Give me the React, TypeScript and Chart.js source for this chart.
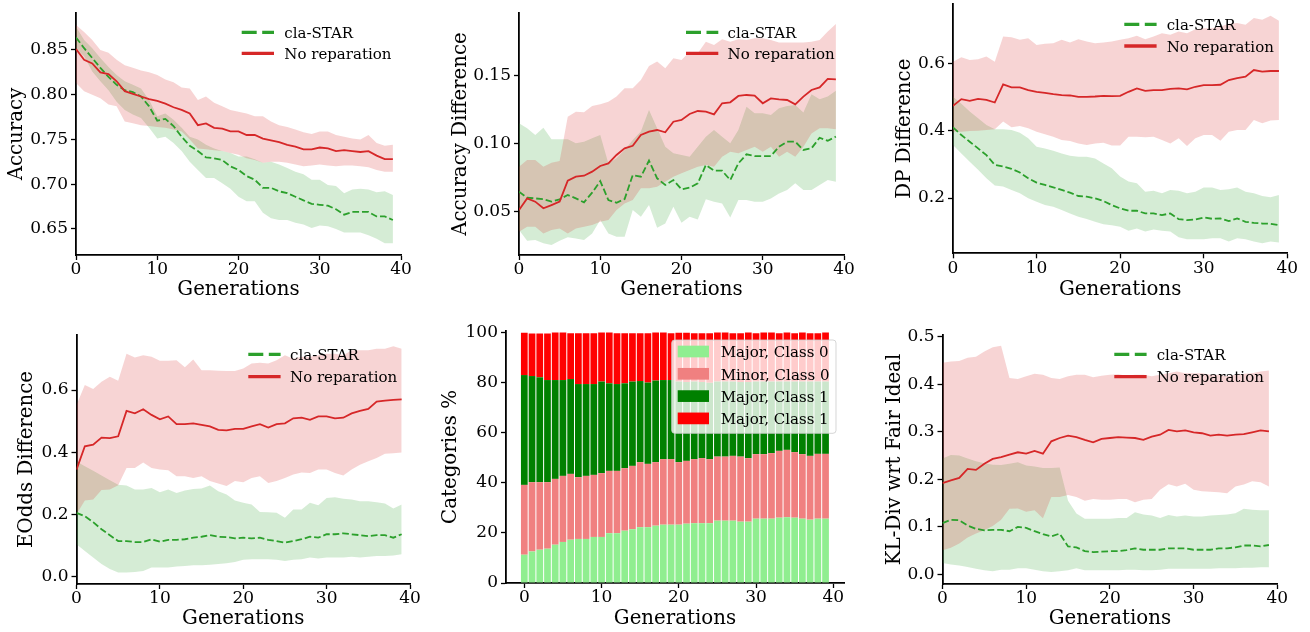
import React, { useEffect, useRef } from 'react';
import { Chart, registerables } from 'chart.js';

Chart.register(...registerables);

// ---------- categories / ticks ----------
const generations = [0, 1, 2, 3, 4, 5, 6, 7, 8, 9, 10, 11, 12, 13, 14, 15, 16, 17, 18, 19, 20, 21, 22, 23, 24, 25, 26, 27, 28, 29, 30, 31, 32, 33, 34, 35, 36, 37, 38, 39];
const genTicks = [0, 10, 20, 30, 40];
const seriesLabels = ['cla-STAR', 'No reparation'];
const barLabels = ['Major, Class 0', 'Minor, Class 0', 'Major, Class 1', 'Major, Class 1'];

// ---------- Accuracy ----------
const accTicks = [0.65, 0.7, 0.75, 0.8, 0.85];
const accStar = [0.864, 0.852, 0.841, 0.830, 0.820, 0.811, 0.805, 0.803, 0.798, 0.787, 0.771, 0.773, 0.765, 0.753, 0.743, 0.737, 0.730, 0.729, 0.727, 0.720, 0.716, 0.709, 0.705, 0.696, 0.696, 0.692, 0.690, 0.686, 0.682, 0.678, 0.677, 0.676, 0.672, 0.666, 0.669, 0.669, 0.669, 0.664, 0.664, 0.660];
const accStarHi = [0.876, 0.861, 0.852, 0.841, 0.831, 0.822, 0.815, 0.811, 0.807, 0.794, 0.776, 0.779, 0.772, 0.763, 0.753, 0.750, 0.744, 0.740, 0.737, 0.735, 0.731, 0.731, 0.728, 0.724, 0.725, 0.722, 0.718, 0.714, 0.711, 0.705, 0.705, 0.699, 0.698, 0.690, 0.694, 0.695, 0.694, 0.691, 0.692, 0.688];
const accStarLo = [0.852, 0.843, 0.826, 0.815, 0.805, 0.792, 0.783, 0.778, 0.774, 0.763, 0.751, 0.753, 0.746, 0.737, 0.725, 0.716, 0.707, 0.707, 0.701, 0.695, 0.686, 0.681, 0.681, 0.668, 0.662, 0.660, 0.660, 0.657, 0.655, 0.651, 0.654, 0.653, 0.650, 0.646, 0.646, 0.646, 0.643, 0.639, 0.634, 0.634];
const accNone = [0.851, 0.839, 0.835, 0.825, 0.823, 0.815, 0.804, 0.801, 0.798, 0.795, 0.793, 0.790, 0.786, 0.783, 0.779, 0.766, 0.768, 0.763, 0.762, 0.759, 0.759, 0.755, 0.755, 0.751, 0.749, 0.747, 0.744, 0.742, 0.739, 0.739, 0.741, 0.740, 0.737, 0.738, 0.737, 0.736, 0.737, 0.732, 0.728, 0.728];
const accNoneHi = [0.878, 0.870, 0.861, 0.850, 0.847, 0.839, 0.833, 0.830, 0.827, 0.825, 0.822, 0.817, 0.814, 0.808, 0.807, 0.794, 0.798, 0.791, 0.787, 0.783, 0.781, 0.779, 0.776, 0.776, 0.770, 0.766, 0.764, 0.761, 0.758, 0.756, 0.759, 0.759, 0.755, 0.753, 0.751, 0.750, 0.755, 0.746, 0.743, 0.744];
const accNoneLo = [0.813, 0.804, 0.800, 0.796, 0.789, 0.787, 0.770, 0.768, 0.766, 0.765, 0.764, 0.763, 0.761, 0.759, 0.750, 0.740, 0.739, 0.738, 0.737, 0.735, 0.733, 0.729, 0.727, 0.724, 0.725, 0.725, 0.724, 0.722, 0.720, 0.721, 0.722, 0.721, 0.720, 0.721, 0.721, 0.720, 0.719, 0.716, 0.714, 0.714];

// ---------- Accuracy Difference ----------
const adTicks = [0.05, 0.1, 0.15];
const adStar = [0.0647, 0.0603, 0.0598, 0.0593, 0.0574, 0.0591, 0.0623, 0.0598, 0.0569, 0.0640, 0.0726, 0.0586, 0.0566, 0.0593, 0.0770, 0.0758, 0.0876, 0.0746, 0.0697, 0.0733, 0.0665, 0.0677, 0.0709, 0.0844, 0.0802, 0.0802, 0.0733, 0.0856, 0.0923, 0.0910, 0.0910, 0.0910, 0.0979, 0.1016, 0.1016, 0.0955, 0.0967, 0.1045, 0.1023, 0.1053];
const adStarHi = [0.1151, 0.1114, 0.1065, 0.1119, 0.1033, 0.1033, 0.1033, 0.1004, 0.1016, 0.1041, 0.1065, 0.0856, 0.0893, 0.0955, 0.1028, 0.1090, 0.1249, 0.1114, 0.0979, 0.0930, 0.0918, 0.0905, 0.0979, 0.1053, 0.1102, 0.1053, 0.1004, 0.1102, 0.1274, 0.1225, 0.1225, 0.1213, 0.1262, 0.1279, 0.1286, 0.1230, 0.1365, 0.1328, 0.1348, 0.1392];
const adStarLo = [0.0365, 0.0286, 0.0291, 0.0267, 0.0254, 0.0286, 0.0311, 0.0303, 0.0291, 0.0340, 0.0439, 0.0340, 0.0316, 0.0316, 0.0512, 0.0463, 0.0549, 0.0382, 0.0414, 0.0537, 0.0419, 0.0463, 0.0443, 0.0591, 0.0574, 0.0561, 0.0458, 0.0586, 0.0586, 0.0574, 0.0574, 0.0598, 0.0635, 0.0660, 0.0709, 0.0660, 0.0660, 0.0697, 0.0733, 0.0721];
const adNone = [0.0512, 0.0598, 0.0574, 0.0525, 0.0549, 0.0574, 0.0729, 0.0758, 0.0765, 0.0795, 0.0837, 0.0856, 0.0918, 0.0967, 0.0986, 0.1065, 0.1090, 0.1102, 0.1085, 0.1163, 0.1176, 0.1220, 0.1242, 0.1237, 0.1217, 0.1299, 0.1306, 0.1353, 0.1360, 0.1355, 0.1299, 0.1335, 0.1328, 0.1323, 0.1291, 0.1348, 0.1397, 0.1416, 0.1478, 0.1475];
const adNoneHi = [0.0832, 0.0881, 0.0881, 0.0832, 0.0861, 0.0873, 0.1200, 0.1237, 0.1232, 0.1279, 0.1291, 0.1311, 0.1348, 0.1409, 0.1409, 0.1471, 0.1574, 0.1606, 0.1557, 0.1630, 0.1618, 0.1679, 0.1667, 0.1753, 0.1728, 0.1770, 0.1753, 0.1770, 0.1765, 0.1778, 0.1778, 0.1765, 0.1746, 0.1746, 0.1746, 0.1746, 0.1753, 0.1765, 0.1827, 0.1883];
const adNoneLo = [0.0353, 0.0389, 0.0389, 0.0340, 0.0365, 0.0377, 0.0340, 0.0377, 0.0389, 0.0402, 0.0426, 0.0439, 0.0512, 0.0561, 0.0586, 0.0672, 0.0672, 0.0684, 0.0721, 0.0758, 0.0783, 0.0807, 0.0832, 0.0844, 0.0832, 0.0905, 0.0942, 0.0930, 0.0955, 0.0979, 0.0942, 0.0979, 0.0905, 0.0942, 0.0905, 0.0979, 0.1077, 0.1114, 0.1114, 0.1107];

// ---------- DP Difference ----------
const dpTicks = [0.2, 0.4, 0.6];
const dpStar = [0.411, 0.388, 0.368, 0.348, 0.328, 0.299, 0.294, 0.287, 0.276, 0.259, 0.246, 0.239, 0.232, 0.224, 0.216, 0.206, 0.204, 0.199, 0.191, 0.179, 0.169, 0.162, 0.162, 0.154, 0.154, 0.149, 0.154, 0.137, 0.134, 0.136, 0.142, 0.138, 0.139, 0.131, 0.139, 0.129, 0.126, 0.124, 0.123, 0.119];
const dpStarHi = [0.502, 0.481, 0.458, 0.438, 0.418, 0.405, 0.405, 0.403, 0.395, 0.378, 0.353, 0.348, 0.341, 0.333, 0.326, 0.323, 0.323, 0.318, 0.303, 0.289, 0.264, 0.249, 0.244, 0.219, 0.222, 0.214, 0.224, 0.222, 0.214, 0.219, 0.231, 0.231, 0.224, 0.226, 0.231, 0.219, 0.214, 0.206, 0.202, 0.209];
const dpStarLo = [0.358, 0.333, 0.308, 0.284, 0.259, 0.237, 0.234, 0.224, 0.214, 0.199, 0.189, 0.179, 0.174, 0.164, 0.154, 0.144, 0.137, 0.129, 0.122, 0.119, 0.114, 0.102, 0.109, 0.100, 0.106, 0.102, 0.100, 0.083, 0.077, 0.077, 0.077, 0.080, 0.080, 0.070, 0.080, 0.077, 0.070, 0.065, 0.070, 0.067];
const dpNone = [0.475, 0.495, 0.490, 0.496, 0.493, 0.485, 0.539, 0.530, 0.530, 0.522, 0.517, 0.514, 0.510, 0.507, 0.506, 0.502, 0.502, 0.503, 0.505, 0.504, 0.505, 0.517, 0.527, 0.520, 0.522, 0.522, 0.526, 0.527, 0.524, 0.532, 0.537, 0.537, 0.538, 0.552, 0.558, 0.562, 0.582, 0.577, 0.579, 0.579];
const dpNoneHi = [0.607, 0.620, 0.612, 0.614, 0.622, 0.607, 0.682, 0.680, 0.672, 0.677, 0.657, 0.660, 0.662, 0.672, 0.664, 0.674, 0.667, 0.662, 0.664, 0.667, 0.672, 0.677, 0.684, 0.674, 0.682, 0.692, 0.687, 0.697, 0.692, 0.704, 0.707, 0.707, 0.712, 0.720, 0.722, 0.717, 0.737, 0.732, 0.744, 0.729];
const dpNoneLo = [0.398, 0.398, 0.400, 0.401, 0.403, 0.405, 0.428, 0.411, 0.415, 0.408, 0.398, 0.390, 0.383, 0.373, 0.370, 0.363, 0.358, 0.363, 0.365, 0.357, 0.357, 0.383, 0.383, 0.381, 0.383, 0.373, 0.363, 0.378, 0.355, 0.378, 0.388, 0.388, 0.371, 0.398, 0.403, 0.403, 0.433, 0.423, 0.431, 0.433];

// ---------- EOdds Difference ----------
const eoTicks = [0, 0.2, 0.4, 0.6];
const eoStar = [0.205, 0.194, 0.175, 0.152, 0.133, 0.114, 0.114, 0.111, 0.111, 0.120, 0.112, 0.118, 0.118, 0.120, 0.125, 0.128, 0.133, 0.128, 0.127, 0.123, 0.125, 0.123, 0.125, 0.118, 0.114, 0.109, 0.114, 0.120, 0.128, 0.125, 0.136, 0.136, 0.139, 0.136, 0.133, 0.130, 0.133, 0.133, 0.125, 0.136];
const eoStarHi = [0.370, 0.355, 0.340, 0.325, 0.310, 0.295, 0.293, 0.280, 0.280, 0.285, 0.271, 0.280, 0.269, 0.277, 0.282, 0.283, 0.293, 0.274, 0.264, 0.245, 0.237, 0.232, 0.208, 0.207, 0.205, 0.189, 0.216, 0.216, 0.237, 0.229, 0.253, 0.255, 0.250, 0.248, 0.242, 0.242, 0.239, 0.235, 0.219, 0.232];
const eoStarLo = [0.104, 0.082, 0.061, 0.040, 0.024, 0.013, 0.013, 0.015, 0.018, 0.029, 0.029, 0.029, 0.032, 0.034, 0.036, 0.036, 0.038, 0.040, 0.043, 0.047, 0.054, 0.056, 0.056, 0.056, 0.054, 0.050, 0.054, 0.056, 0.061, 0.058, 0.061, 0.061, 0.061, 0.064, 0.061, 0.064, 0.066, 0.066, 0.068, 0.072];
const eoNone = [0.344, 0.419, 0.424, 0.447, 0.445, 0.451, 0.533, 0.525, 0.538, 0.520, 0.506, 0.515, 0.490, 0.490, 0.493, 0.488, 0.483, 0.472, 0.470, 0.475, 0.475, 0.483, 0.490, 0.479, 0.490, 0.493, 0.509, 0.511, 0.504, 0.515, 0.515, 0.509, 0.511, 0.525, 0.533, 0.539, 0.563, 0.566, 0.568, 0.570];
const eoNoneHi = [0.552, 0.616, 0.603, 0.627, 0.643, 0.630, 0.717, 0.705, 0.712, 0.707, 0.694, 0.694, 0.696, 0.673, 0.698, 0.664, 0.664, 0.662, 0.661, 0.661, 0.669, 0.685, 0.688, 0.685, 0.696, 0.712, 0.701, 0.707, 0.707, 0.712, 0.717, 0.717, 0.712, 0.728, 0.728, 0.728, 0.733, 0.733, 0.741, 0.733];
const eoNoneLo = [0.200, 0.245, 0.248, 0.278, 0.280, 0.294, 0.349, 0.349, 0.367, 0.349, 0.344, 0.342, 0.323, 0.323, 0.317, 0.323, 0.307, 0.299, 0.291, 0.307, 0.303, 0.317, 0.323, 0.301, 0.307, 0.317, 0.328, 0.335, 0.333, 0.344, 0.344, 0.333, 0.325, 0.344, 0.360, 0.371, 0.381, 0.395, 0.397, 0.399];

// ---------- Categories % (stacked bars) ----------
const catTicks = [0, 20, 40, 60, 80, 100];
const majorClass0 = [11.3, 12.6, 13.3, 13.7, 15.3, 16.4, 17.3, 17.6, 17.6, 18.4, 18.4, 19.9, 19.9, 20.9, 21.5, 22.3, 22.3, 22.9, 23.3, 23.3, 23.3, 23.7, 23.9, 23.9, 23.9, 24.9, 24.9, 24.9, 24.5, 24.5, 25.7, 25.7, 25.7, 26.1, 26.3, 26.1, 25.7, 25.3, 25.7, 25.7];
const minorClass0 = [27.9, 27.7, 27.0, 26.6, 26.3, 26.4, 26.3, 24.7, 25.2, 24.8, 25.5, 24.9, 24.9, 25.0, 25.3, 26.0, 25.3, 25.4, 26.2, 26.2, 25.0, 25.1, 25.6, 26.0, 25.6, 25.6, 25.6, 25.9, 26.0, 25.4, 25.8, 25.8, 26.2, 26.7, 26.9, 26.2, 25.8, 25.5, 25.9, 25.9];
const majorClass1 = [43.9, 42.4, 41.9, 40.8, 39.5, 38.3, 37.9, 37.2, 36.7, 36.3, 36.6, 35.0, 34.7, 33.9, 33.7, 32.4, 32.5, 32.6, 31.6, 31.6, 32.2, 31.5, 31.0, 30.4, 30.5, 30.0, 30.0, 29.7, 29.8, 30.4, 29.0, 29.0, 28.6, 27.7, 27.3, 28.2, 29.0, 29.7, 28.9, 28.9];
const majorClass1b = [16.9, 17.0, 17.5, 18.6, 19.0, 19.0, 18.3, 20.3, 20.3, 20.3, 19.6, 20.3, 20.3, 20.0, 19.3, 19.1, 19.7, 19.2, 19.0, 18.7, 19.5, 19.7, 19.3, 19.5, 19.8, 19.6, 19.6, 19.3, 19.5, 19.8, 19.3, 19.6, 19.6, 19.3, 19.6, 19.3, 19.6, 19.3, 19.3, 19.6];

// ---------- KL-Div ----------
const klTicks = [0, 0.1, 0.2, 0.3, 0.4, 0.5];
const klStar = [0.108, 0.115, 0.114, 0.103, 0.096, 0.093, 0.094, 0.094, 0.091, 0.100, 0.098, 0.091, 0.085, 0.080, 0.086, 0.059, 0.057, 0.049, 0.047, 0.048, 0.049, 0.049, 0.051, 0.055, 0.052, 0.052, 0.052, 0.055, 0.055, 0.055, 0.052, 0.052, 0.052, 0.055, 0.055, 0.057, 0.061, 0.061, 0.059, 0.062];
const klStarHi = [0.244, 0.251, 0.250, 0.244, 0.238, 0.234, 0.231, 0.230, 0.233, 0.236, 0.229, 0.227, 0.224, 0.224, 0.225, 0.155, 0.128, 0.117, 0.117, 0.117, 0.117, 0.119, 0.119, 0.131, 0.126, 0.124, 0.119, 0.125, 0.122, 0.124, 0.122, 0.122, 0.124, 0.125, 0.126, 0.129, 0.138, 0.136, 0.135, 0.135];
const klStarLo = [0.024, 0.021, 0.019, 0.016, 0.012, 0.009, 0.007, 0.010, 0.010, 0.013, 0.013, 0.010, 0.007, 0.005, 0.007, 0.009, 0.013, 0.009, 0.009, 0.009, 0.009, 0.009, 0.010, 0.010, 0.009, 0.009, 0.010, 0.012, 0.012, 0.012, 0.012, 0.012, 0.012, 0.013, 0.013, 0.013, 0.014, 0.014, 0.015, 0.015];
const klNone = [0.192, 0.198, 0.203, 0.222, 0.220, 0.233, 0.243, 0.247, 0.252, 0.257, 0.254, 0.260, 0.254, 0.280, 0.287, 0.292, 0.289, 0.283, 0.278, 0.285, 0.287, 0.289, 0.288, 0.287, 0.283, 0.290, 0.294, 0.304, 0.301, 0.303, 0.299, 0.297, 0.292, 0.294, 0.292, 0.294, 0.295, 0.299, 0.303, 0.301];
const klNoneHi = [0.445, 0.448, 0.449, 0.456, 0.458, 0.469, 0.478, 0.481, 0.413, 0.411, 0.417, 0.422, 0.420, 0.413, 0.411, 0.417, 0.420, 0.420, 0.415, 0.418, 0.420, 0.421, 0.418, 0.420, 0.420, 0.417, 0.420, 0.423, 0.427, 0.423, 0.423, 0.423, 0.420, 0.420, 0.417, 0.420, 0.422, 0.423, 0.427, 0.429];
const klNoneLo = [0.051, 0.056, 0.065, 0.078, 0.086, 0.093, 0.102, 0.115, 0.138, 0.139, 0.132, 0.135, 0.118, 0.163, 0.163, 0.167, 0.163, 0.155, 0.159, 0.157, 0.157, 0.159, 0.159, 0.152, 0.157, 0.159, 0.178, 0.190, 0.185, 0.191, 0.178, 0.175, 0.174, 0.173, 0.171, 0.185, 0.189, 0.196, 0.194, 0.185];

// ---------- styles ----------
const FONT = "'DejaVu Serif', serif";
const RED = '#d62728';
const GREEN = '#2ca02c';
const RED_FILL = 'rgba(214,39,40,0.2)';
const GREEN_FILL = 'rgba(44,160,44,0.2)';
const BAR_COLORS = ['#90ee90', '#f08080', '#008000', '#ff0000'];
const TICK_SIZE = 17;
const TITLE_SIZE = 19.8;
const LEGEND_SIZE = 15;

type Box = [number, number, number, number];
type Area = [number, number, number, number];

interface LegendSpec {
  items: { label: string; color: string; dash?: number[]; patch?: boolean }[];
  markX: number;
  markW: number;
  textX: number;
  rows: number[];
  baseOff: number;
  lineW: number;
  patchH: number;
  frame?: { x: number; y: number; w: number; h: number };
}

function legendPlugin(spec: LegendSpec, box: Box) {
  return {
    id: 'inlineLegend',
    afterDraw(chart: any) {
      const ctx = chart.ctx as CanvasRenderingContext2D;
      const ox = box[0];
      const oy = box[1];
      ctx.save();
      if (spec.frame) {
        const f = spec.frame;
        ctx.beginPath();
        (ctx as any).roundRect(f.x - ox, f.y - oy, f.w, f.h, 3);
        ctx.fillStyle = 'rgba(255,255,255,0.8)';
        ctx.fill();
        ctx.strokeStyle = 'rgba(204,204,204,0.8)';
        ctx.lineWidth = 1;
        ctx.stroke();
      }
      spec.items.forEach((it, i) => {
        const y = spec.rows[i] - oy;
        if (it.patch) {
          ctx.fillStyle = it.color;
          ctx.fillRect(spec.markX - ox, y - spec.patchH / 2, spec.markW, spec.patchH);
        } else {
          ctx.beginPath();
          ctx.setLineDash(it.dash || []);
          ctx.lineCap = 'butt';
          ctx.strokeStyle = it.color;
          ctx.lineWidth = spec.lineW;
          ctx.moveTo(spec.markX - ox, y);
          ctx.lineTo(spec.markX - ox + spec.markW, y);
          ctx.stroke();
          ctx.setLineDash([]);
        }
        ctx.fillStyle = '#000';
        ctx.font = `${LEGEND_SIZE}px ${FONT}`;
        ctx.textAlign = 'left';
        ctx.textBaseline = 'alphabetic';
        ctx.fillText(it.label, spec.textX - ox, y + spec.baseOff);
      });
      ctx.restore();
    },
  };
}

function axis(opts: {
  min: number; max: number; ticks: number[]; digits: number; title: string;
  titlePad: { top?: number; bottom?: number }; tickPad: number;
  fit: (s: any) => void; stacked?: boolean;
}) {
  return {
    type: 'linear',
    min: opts.min,
    max: opts.max,
    bounds: 'data',
    offset: false,
    stacked: opts.stacked || false,
    afterBuildTicks: (s: any) => { s.ticks = opts.ticks.map((v) => ({ value: v })); },
    afterFit: (s: any) => {
      opts.fit(s);
      s.paddingLeft = 0; s.paddingRight = 0; s.paddingTop = 0; s.paddingBottom = 0;
    },
    grid: { display: true, drawOnChartArea: false, drawTicks: true, tickLength: 5, tickWidth: 1.3, tickColor: '#000', offset: false },
    border: { display: true, color: '#000', width: 1.8 },
    ticks: {
      color: '#000', font: { family: FONT, size: TICK_SIZE, lineHeight: 1 }, padding: opts.tickPad,
      maxRotation: 0, minRotation: 0, autoSkip: false,
      callback: (v: any) => Number(v).toFixed(opts.digits),
    },
    title: {
      display: true, text: opts.title, color: '#000',
      font: { family: FONT, size: TITLE_SIZE, lineHeight: 1.2 },
      padding: { top: opts.titlePad.top || 0, bottom: opts.titlePad.bottom || 0 },
    },
  };
}

const pts = (arr: number[]) => arr.map((v, i) => ({ x: generations[i], y: v }));

interface LinePanel {
  box: Box; area: Area; yMin: number; yMax: number; yTicks: number[]; digits: number;
  yTitle: string; yTitlePad: number; xTitlePad: number;
  star: number[]; starHi: number[]; starLo: number[];
  none: number[]; noneHi: number[]; noneLo: number[];
  legend: { markX: number; textX: number; rows: number[] };
}

function lineConfig(p: LinePanel) {
  const [bx, by, bw, bh] = p.box;
  const [l, t, r, b] = p.area;
  const band = { borderColor: 'transparent', borderWidth: 0, pointRadius: 0 };
  return {
    type: 'line',
    data: {
      datasets: [
        { ...band, data: pts(p.starLo), fill: false, order: 20 },
        { ...band, data: pts(p.starHi), fill: '-1', backgroundColor: GREEN_FILL, order: 19 },
        { ...band, data: pts(p.noneLo), fill: false, order: 18 },
        { ...band, data: pts(p.noneHi), fill: '-1', backgroundColor: RED_FILL, order: 17 },
        { label: seriesLabels[0], data: pts(p.star), borderColor: GREEN, borderWidth: 1.8, borderDash: [6.7, 2.9], pointRadius: 0, fill: false, order: 2 },
        { label: seriesLabels[1], data: pts(p.none), borderColor: RED, borderWidth: 1.8, pointRadius: 0, fill: false, order: 1 },
      ],
    },
    options: {
      responsive: false,
      animation: false,
      devicePixelRatio: 1,
      events: [],
      layout: { padding: { left: 0, top: t - by, right: bx + bw - r, bottom: 0 } },
      elements: { line: { tension: 0 } },
      plugins: { legend: { display: false }, tooltip: { enabled: false } },
      scales: {
        x: axis({ min: 0, max: 40, ticks: genTicks, digits: 0, title: 'Generations', titlePad: { bottom: p.xTitlePad }, tickPad: 1.5, fit: (s) => { s.height = by + bh - b; } }),
        y: axis({ min: p.yMin, max: p.yMax, ticks: p.yTicks, digits: p.digits, title: p.yTitle, titlePad: { top: p.yTitlePad }, tickPad: 3, fit: (s) => { s.width = l - bx; } }),
      },
    },
    plugins: [legendPlugin({
      items: [
        { label: seriesLabels[0], color: GREEN, dash: [15, 5.5] },
        { label: seriesLabels[1], color: RED },
      ],
      markX: p.legend.markX, markW: 32.3, textX: p.legend.textX, rows: p.legend.rows,
      baseOff: 5.6, lineW: 3.3, patchH: 0,
    }, p.box)],
  };
}

function barConfig() {
  const box: Box = [435, 310, 445, 322];
  const [bx, by, bw, bh] = box;
  const [l, t, r, b] = [506, 331, 844, 583];
  const series = [majorClass0, minorClass0, majorClass1, majorClass1b];
  return {
    type: 'bar',
    data: {
      datasets: series.map((s, i) => ({
        label: barLabels[i], data: pts(s), backgroundColor: BAR_COLORS[i], borderWidth: 0,
        barPercentage: 0.87, categoryPercentage: 1,
      })),
    },
    options: {
      responsive: false,
      animation: false,
      devicePixelRatio: 1,
      events: [],
      layout: { padding: { left: 0, top: t - by, right: bx + bw - r, bottom: 0 } },
      plugins: { legend: { display: false }, tooltip: { enabled: false } },
      scales: {
        x: axis({ min: -2.37, max: 41.39, ticks: genTicks, digits: 0, title: 'Generations', titlePad: { bottom: 1.0 }, tickPad: 1.5, stacked: true, fit: (s) => { s.height = by + bh - b; } }),
        y: axis({ min: 0, max: 100.7, ticks: catTicks, digits: 0, title: 'Categories %', titlePad: { top: 3.8 }, tickPad: 3, stacked: true, fit: (s) => { s.width = l - bx; } }),
      },
    },
    plugins: [legendPlugin({
      items: barLabels.map((lab, i) => ({ label: lab, color: BAR_COLORS[i], patch: true })),
      markX: 677.7, markW: 31.3, textX: 720.7, rows: [351.5, 373.8, 396.1, 418.4],
      baseOff: 5.8, lineW: 0, patchH: 11.7,
      frame: { x: 671.7, y: 340, w: 164.3, h: 93.3 },
    }, box)],
  };
}

const linePanels: LinePanel[] = [
  {
    box: [0, 0, 440, 310], area: [76, 13, 401, 255], yMin: 0.6209, yMax: 0.8913, yTicks: accTicks, digits: 2,
    yTitle: 'Accuracy', yTitlePad: 4.8, xTitlePad: 8.0,
    star: accStar, starHi: accStarHi, starLo: accStarLo, none: accNone, noneHi: accNoneHi, noneLo: accNoneLo,
    legend: { markX: 241.7, textX: 284.3, rows: [32.3, 53.3] },
  },
  {
    box: [440, 0, 440, 310], area: [519, 13, 844, 255], yMin: 0.0181, yMax: 0.1964, yTicks: adTicks, digits: 2,
    yTitle: 'Accuracy Difference', yTitlePad: 8.9, xTitlePad: 8.0,
    star: adStar, starHi: adStarHi, starLo: adStarLo, none: adNone, noneHi: adNoneHi, noneLo: adNoneLo,
    legend: { markX: 686, textX: 727.5, rows: [32.3, 53.3] },
  },
  {
    box: [880, 0, 430, 310], area: [953, 4, 1287.3, 253.3], yMin: 0.035, yMax: 0.779, yTicks: dpTicks, digits: 1,
    yTitle: 'DP Difference', yTitlePad: 12.8, xTitlePad: 8.0,
    star: dpStar, starHi: dpStarHi, starLo: dpStarLo, none: dpNone, noneHi: dpNoneHi, noneLo: dpNoneLo,
    legend: { markX: 1124.3, textX: 1166.7, rows: [24.3, 46] },
  },
  {
    box: [0, 310, 440, 322], area: [76.5, 335, 410, 584], yMin: -0.024, yMax: 0.777, yTicks: eoTicks, digits: 1,
    yTitle: 'EOdds Difference', yTitlePad: 15.4, xTitlePad: 1.0,
    star: eoStar, starHi: eoStarHi, starLo: eoStarLo, none: eoNone, noneHi: eoNoneHi, noneLo: eoNoneLo,
    legend: { markX: 248.3, textX: 290, rows: [354.3, 376.7] },
  },
  {
    box: [880, 310, 430, 322], area: [942.5, 335, 1277.3, 584], yMin: -0.02, yMax: 0.5036, yTicks: klTicks, digits: 1,
    yTitle: 'KL-Div wrt Fair Ideal', yTitlePad: 2.6, xTitlePad: 1.0,
    star: klStar, starHi: klStarHi, starLo: klStarLo, none: klNone, noneHi: klNoneHi, noneLo: klNoneLo,
    legend: { markX: 1114.3, textX: 1156.7, rows: [354.3, 376.7] },
  },
];

const BOXES: Box[] = [linePanels[0].box, linePanels[1].box, linePanels[2].box, linePanels[3].box, [435, 310, 445, 322], linePanels[4].box];

export default function App() {
  const refs = useRef<(HTMLCanvasElement | null)[]>([]);
  useEffect(() => {
    const configs: any[] = [
      lineConfig(linePanels[0]),
      lineConfig(linePanels[1]),
      lineConfig(linePanels[2]),
      lineConfig(linePanels[3]),
      barConfig(),
      lineConfig(linePanels[4]),
    ];
    const charts = configs.map((cfg, i) => new Chart(refs.current[i] as HTMLCanvasElement, cfg));
    return () => { charts.forEach((c) => c.destroy()); };
  }, []);
  return (
    <div style={{ position: 'fixed', left: 0, top: 0, width: 1310, height: 632, background: '#fff' }}>
      {BOXES.map((b, i) => (
        <canvas
          key={i}
          ref={(el) => { refs.current[i] = el; }}
          width={b[2]}
          height={b[3]}
          style={{ position: 'absolute', left: b[0], top: b[1], width: b[2], height: b[3] }}
        />
      ))}
    </div>
  );
}
